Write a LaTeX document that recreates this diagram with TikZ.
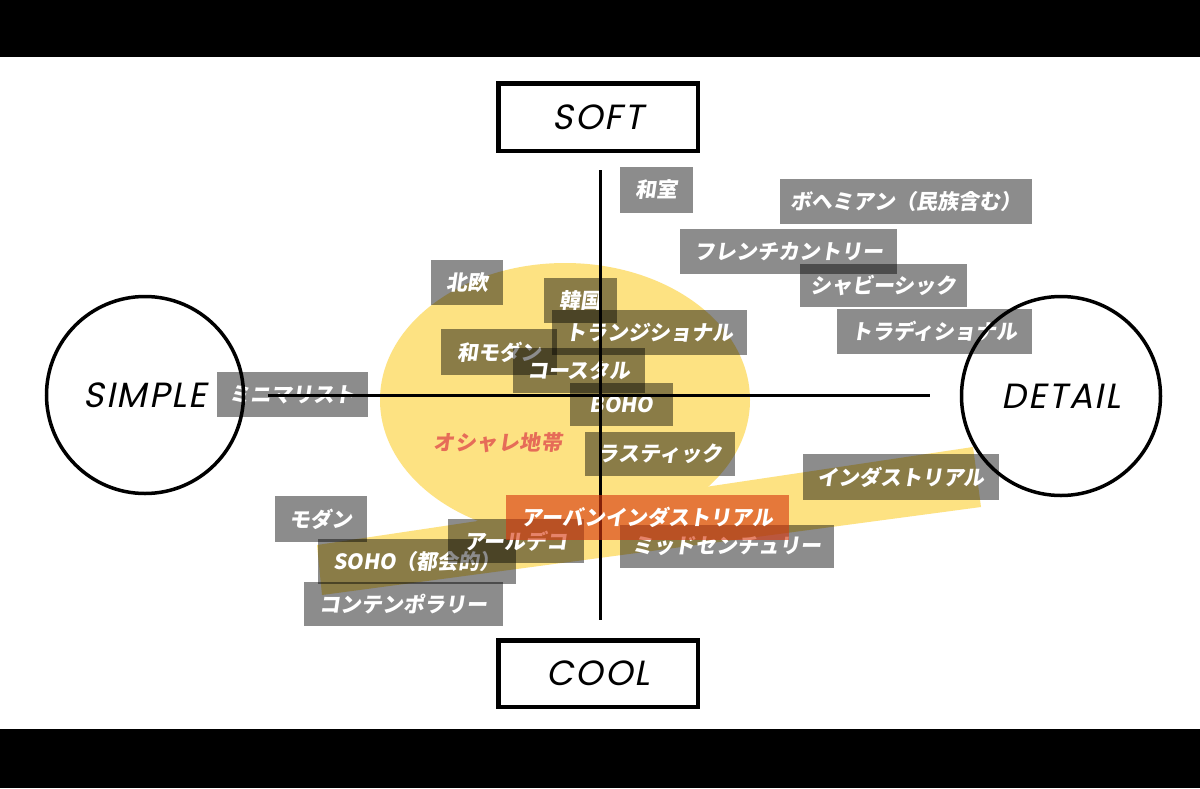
\documentclass[tikz,border=0pt]{standalone}
\usepackage{fontspec}
\newfontfamily\jpfont[FakeSlant=0.15]{Noto Sans CJK JP}
\newfontfamily\axfont[FakeSlant=0.2,LetterSpace=6]{Poppins}
\definecolor{hilite}{RGB}{253,226,130}
\definecolor{urbancol}{RGB}{215,55,15}
\definecolor{oshcol}{RGB}{230,108,88}
\begin{document}
\begin{tikzpicture}[x=1pt,y=-1pt,
  tag/.style={fill=black, fill opacity=0.45, text opacity=1, text=white,
    font=\jpfont\bfseries\fontsize{21}{21}\selectfont, inner sep=0pt, anchor=center},
  urbantag/.style={tag, fill=urbancol, fill opacity=0.62},
  axisline/.style={line width=3pt, black},
  polecircle/.style={circle, draw=black, line width=3.5pt, minimum size=197pt, inner sep=0pt,
    font=\axfont\fontsize{35}{35}\selectfont},
  polebox/.style={draw=black, line width=4.5pt, inner sep=0pt,
    font=\axfont\fontsize{35}{35}\selectfont}]
\useasboundingbox (0,0) rectangle (1200,788);
\fill[white] (0,57) rectangle (1200,729);
\fill[black] (0,0) rectangle (1200,57);
\fill[black] (0,729) rectangle (1200,788);
% yellow zones
\fill[hilite] (565,400) ellipse [x radius=185, y radius=137];
\fill[hilite] (317,545) -- (973,447) -- (981,507) -- (322,595) -- cycle;
% grey tags
\node[tag, minimum width=73, minimum height=46] (washitsu) at (656.5,190) {和室};
\node[tag, minimum width=252, minimum height=45] (bohemian) at (906,201.5) {ボヘミアン（民族含む）};
\node[tag, minimum width=217, minimum height=45] (french) at (788.5,251.5) {フレンチカントリー};
\node[tag, minimum width=167, minimum height=43] (shabby) at (883.5,285.5) {シャビーシック};
\node[tag, minimum width=195, minimum height=45] (traditional) at (934.5,331.5) {トラディショナル};
\node[tag, minimum width=72, minimum height=45] (hokuo) at (467,282.5) {北欧};
\node[tag, minimum width=73, minimum height=45] (kankoku) at (580.5,300.5) {韓国};
\node[tag, minimum width=195, minimum height=45] (transitional) at (649.5,332.5) {トランジショナル};
\node[tag, minimum width=116, minimum height=46] (wamodern) at (499,352) {和モダン};
\node[tag, minimum width=132, minimum height=45] (coastal) at (579,370.5) {コースタル};
\node[tag, minimum width=103, minimum height=43] (boho) at (621.5,404.5) {BOHO};
\node[tag, minimum width=150, minimum height=44] (rustic) at (660,454) {ラスティック};
\node[tag, minimum width=151, minimum height=45] (minimal) at (292.5,394.5) {ミニマリスト};
\node[tag, minimum width=92, minimum height=46] (modern) at (321,519) {モダン};
\node[tag, minimum width=199, minimum height=44] (contemporary) at (403.5,604) {コンテンポラリー};
\node[tag, minimum width=198, minimum height=45] (soho) at (417,561.5) {SOHO（都会的）};
\node[tag, minimum width=136, minimum height=44] (artdeco) at (516,541) {アールデコ};
\node[tag, minimum width=214, minimum height=43] (midcentury) at (727,546.5) {ミッドセンチュリー};
\node[tag, minimum width=196, minimum height=46] (industrial) at (901,477) {インダストリアル};
% zone label
\node[text=oshcol, font=\jpfont\bfseries\fontsize{21}{21}\selectfont\addfontfeature{LetterSpace=3}] (oshare) at (498,443) {オシャレ地帯};
% axes
\coordinate (vtop) at (600,170);
\coordinate (vbot) at (600,620);
\coordinate (hleft) at (268,395);
\coordinate (hright) at (930,395);
\draw[axisline] (vtop) -- (vbot);
\draw[axisline] (hleft) -- (hright);
% highlighted tag
\node[urbantag, minimum width=283, minimum height=45] (urban) at (647.5,517.5) {アーバンインダストリアル};
% poles
\node[polecircle] (simple) at (145,395) {SIMPLE};
\node[polecircle, minimum size=199pt] (detail) at (1061,396) {DETAIL};
\node[polebox, minimum width=199.5, minimum height=67.5] (soft) at (598,117) {SOFT};
\node[polebox, minimum width=199.5, minimum height=66.5] (cool) at (598,673.5) {COOL};
\end{tikzpicture}
\end{document}
